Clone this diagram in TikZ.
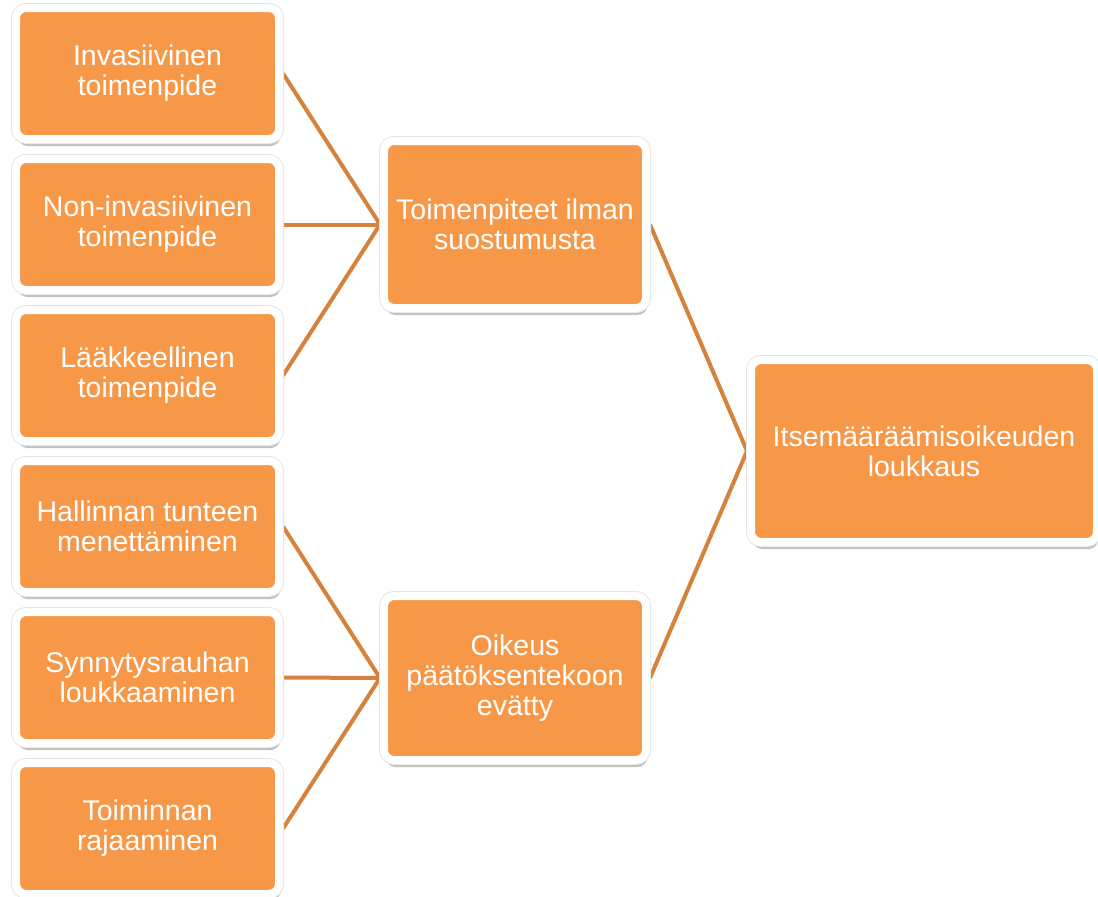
\documentclass[tikz,border=0pt]{standalone}
\usepackage{fontspec}
\setmainfont{Liberation Sans}
\usetikzlibrary{shadows,backgrounds}
\definecolor{boxorange}{HTML}{F79849}
\definecolor{linkorange}{HTML}{D4823C}
\tikzset{
  box/.style={rectangle, rounded corners=10pt, fill=boxorange, draw=white, line width=8pt,
    text=white, align=center, inner sep=0pt,
    font=\fontsize{28.5}{30}\selectfont,
    drop shadow={shadow xshift=1.5pt, shadow yshift=-7pt, opacity=0.3, fill=black!80},
    preaction={draw=black!10, line width=10pt}},
  leaf/.style={box, minimum width=263pt, minimum height=131pt},
  link/.style={draw=linkorange, line width=4pt}
}
\begin{document}
\begin{tikzpicture}[x=1pt,y=-1pt]
\useasboundingbox (0,0) rectangle (1098,897);
\node[leaf] (l1) at (147.5,73.5) {Invasiivinen\\toimenpide};
\node[leaf] (l2) at (147.5,224.5) {Non-invasiivinen\\toimenpide};
\node[leaf] (l3) at (147.5,375.5) {Lääkkeellinen\\toimenpide};
\node[leaf] (l4) at (147.5,526.5) {Hallinnan tunteen\\menettäminen};
\node[leaf] (l5) at (147.5,677.5) {Synnytysrauhan\\loukkaaminen};
\node[leaf] (l6) at (147.5,828.5) {Toiminnan\\rajaaminen};
\node[box, minimum width=262pt, minimum height=167pt] (m1) at (515,224.5) {Toimenpiteet ilman\\suostumusta};
\node[box, minimum width=262pt, minimum height=164pt] (m2) at (515,678) {Oikeus\\päätöksentekoon\\evätty};
\node[box, minimum width=346pt, minimum height=182pt] (r) at (924,451) {Itsemääräämisoikeuden\\loukkaus};
\begin{pgfonlayer}{background}
\fill[white] (0,0) rectangle (1098,897);
\foreach \a in {l1,l2,l3} \draw[link] (\a.east) -- (m1.west);
\foreach \a in {l4,l5,l6} \draw[link] (\a.east) -- (m2.west);
\draw[link] (m1.east) -- (r.west);
\draw[link] (m2.east) -- (r.west);
\end{pgfonlayer}
\end{tikzpicture}
\end{document}
